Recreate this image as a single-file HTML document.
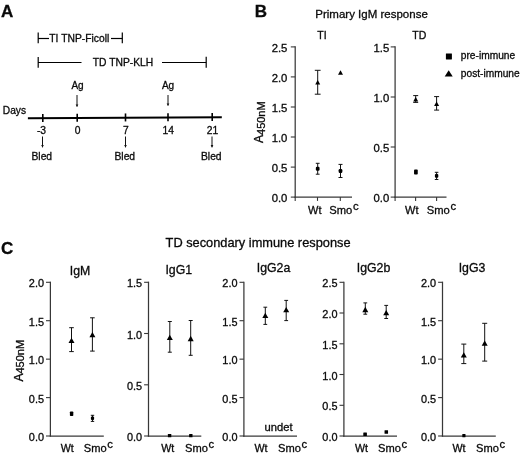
<!DOCTYPE html>
<html><head><meta charset="utf-8"><title>Figure</title>
<style>
html,body{margin:0;padding:0;background:#fff;}
body{width:520px;height:453px;overflow:hidden;}
svg{display:block;will-change:transform;}
svg text{font-family:"Liberation Sans", sans-serif;fill:#0a0a0a;stroke:#0a0a0a;stroke-width:0.3px;}
</style></head><body>
<svg width="520" height="453" viewBox="0 0 520 453">
<rect width="520" height="453" fill="#fff"/>
<text x="0.9" y="16.6" font-size="17" text-anchor="start" font-weight="bold" >A</text>
<line x1="38.2" y1="32.5" x2="38.2" y2="43.3" stroke="#000" stroke-width="1.2"/>
<line x1="38" y1="38.5" x2="49" y2="38.5" stroke="#000" stroke-width="1.2"/>
<text x="49.3" y="41.5" font-size="10.3" text-anchor="start" font-weight="normal" textLength="60">TI TNP-Ficoll</text>
<line x1="111" y1="38.5" x2="122.3" y2="38.5" stroke="#000" stroke-width="1.2"/>
<line x1="122.3" y1="32.5" x2="122.3" y2="43.3" stroke="#000" stroke-width="1.2"/>
<line x1="38.2" y1="57" x2="38.2" y2="67.7" stroke="#000" stroke-width="1.2"/>
<line x1="38" y1="62.5" x2="81.5" y2="62.5" stroke="#000" stroke-width="1.2"/>
<text x="92.8" y="65.7" font-size="10.3" text-anchor="start" font-weight="normal" >TD TNP-KLH</text>
<line x1="162" y1="62.5" x2="206.2" y2="62.5" stroke="#000" stroke-width="1.2"/>
<line x1="206.2" y1="56.8" x2="206.2" y2="67.7" stroke="#000" stroke-width="1.2"/>
<text x="77.5" y="88.5" font-size="10" text-anchor="middle" font-weight="normal" >Ag</text>
<line x1="77" y1="95" x2="77" y2="106.5" stroke="#111" stroke-width="1.0"/>
<polygon points="75.7,104.4 78.3,104.4 77,107" fill="#111"/>
<text x="168" y="88.5" font-size="10" text-anchor="middle" font-weight="normal" >Ag</text>
<line x1="168" y1="95" x2="168" y2="105.5" stroke="#111" stroke-width="1.0"/>
<polygon points="166.7,103.4 169.3,103.4 168,106" fill="#111"/>
<text x="2.8" y="113.9" font-size="10.2" text-anchor="start" font-weight="normal" >Days</text>
<line x1="27.9" y1="118.3" x2="221.8" y2="117.2" stroke="#000" stroke-width="2"/>
<line x1="42.8" y1="113.9160824742268" x2="42.8" y2="121.9160824742268" stroke="#000" stroke-width="1.6"/>
<text x="41.5" y="133.5" font-size="10.3" text-anchor="middle" font-weight="normal" >-3</text>
<line x1="77.2" y1="113.72103092783505" x2="77.2" y2="121.72103092783505" stroke="#000" stroke-width="1.6"/>
<text x="77.5" y="133.5" font-size="10.3" text-anchor="middle" font-weight="normal" >0</text>
<line x1="125.5" y1="113.4471649484536" x2="125.5" y2="121.4471649484536" stroke="#000" stroke-width="1.6"/>
<text x="125.8" y="133.5" font-size="10.3" text-anchor="middle" font-weight="normal" >7</text>
<line x1="168" y1="113.20618556701031" x2="168" y2="121.20618556701031" stroke="#000" stroke-width="1.6"/>
<text x="168.3" y="133.5" font-size="10.3" text-anchor="middle" font-weight="normal" >14</text>
<line x1="212.2" y1="112.95556701030928" x2="212.2" y2="120.95556701030928" stroke="#000" stroke-width="1.6"/>
<text x="212.5" y="133.5" font-size="10.3" text-anchor="middle" font-weight="normal" >21</text>
<line x1="42.5" y1="136.5" x2="42.5" y2="147.2" stroke="#111" stroke-width="1.0"/>
<polygon points="41.2,145.1 43.8,145.1 42.5,147.7" fill="#111"/>
<text x="41.8" y="159.6" font-size="10.3" text-anchor="middle" font-weight="normal" >Bled</text>
<line x1="125.5" y1="136.5" x2="125.5" y2="147.2" stroke="#111" stroke-width="1.0"/>
<polygon points="124.2,145.1 126.8,145.1 125.5,147.7" fill="#111"/>
<text x="124.8" y="159.6" font-size="10.3" text-anchor="middle" font-weight="normal" >Bled</text>
<line x1="212" y1="136.5" x2="212" y2="147.2" stroke="#111" stroke-width="1.0"/>
<polygon points="210.7,145.1 213.3,145.1 212,147.7" fill="#111"/>
<text x="211.3" y="159.6" font-size="10.3" text-anchor="middle" font-weight="normal" >Bled</text>
<text x="254.8" y="16.6" font-size="17" text-anchor="start" font-weight="bold" >B</text>
<text x="315.3" y="18.2" font-size="11.5" text-anchor="start" font-weight="normal" >Primary IgM response</text>
<text x="322" y="39" font-size="10.5" text-anchor="middle" font-weight="normal" >TI</text>
<text x="419.3" y="39" font-size="10.5" text-anchor="middle" font-weight="normal" >TD</text>
<line x1="295.2" y1="46.275" x2="295.2" y2="197.725" stroke="#383838" stroke-width="1.25"/>
<line x1="294.575" y1="197.1" x2="352" y2="197.1" stroke="#383838" stroke-width="1.25"/>
<line x1="290.8" y1="46.9" x2="295.2" y2="46.9" stroke="#383838" stroke-width="1.1"/>
<text x="287.40000000000003" y="52.168" font-size="11.3" text-anchor="end" font-weight="normal" >2.5</text>
<line x1="290.8" y1="76.9" x2="295.2" y2="76.9" stroke="#383838" stroke-width="1.1"/>
<text x="287.40000000000003" y="82.168" font-size="11.3" text-anchor="end" font-weight="normal" >2.0</text>
<line x1="290.8" y1="107.0" x2="295.2" y2="107.0" stroke="#383838" stroke-width="1.1"/>
<text x="287.40000000000003" y="112.268" font-size="11.3" text-anchor="end" font-weight="normal" >1.5</text>
<line x1="290.8" y1="137.0" x2="295.2" y2="137.0" stroke="#383838" stroke-width="1.1"/>
<text x="287.40000000000003" y="142.268" font-size="11.3" text-anchor="end" font-weight="normal" >1.0</text>
<line x1="290.8" y1="167.1" x2="295.2" y2="167.1" stroke="#383838" stroke-width="1.1"/>
<text x="287.40000000000003" y="172.368" font-size="11.3" text-anchor="end" font-weight="normal" >0.5</text>
<line x1="290.8" y1="197.1" x2="295.2" y2="197.1" stroke="#383838" stroke-width="1.1"/>
<text x="287.40000000000003" y="202.368" font-size="11.3" text-anchor="end" font-weight="normal" >0.0</text>
<line x1="295.2" y1="197.1" x2="295.2" y2="200.9" stroke="#383838" stroke-width="1.1"/>
<line x1="317.5" y1="197.1" x2="317.5" y2="200.9" stroke="#383838" stroke-width="1.1"/>
<line x1="340.3" y1="197.1" x2="340.3" y2="200.9" stroke="#383838" stroke-width="1.1"/>
<text x="308" y="214.4" font-size="11" text-anchor="start" font-weight="normal" >Wt</text>
<text x="329.3" y="214.4" font-size="11.2">Smo<tspan dx="0.8" dy="-4.3" font-size="11.3">c</tspan></text>
<text transform="translate(263.4,143) rotate(-90)" font-size="12">A<tspan dy="1.2" font-size="11">450nM</tspan></text>
<line x1="317.7" y1="70.3" x2="317.7" y2="94.2" stroke="#111" stroke-width="1.0"/>
<line x1="314.8" y1="70.3" x2="320.59999999999997" y2="70.3" stroke="#111" stroke-width="1.0"/>
<line x1="314.8" y1="94.2" x2="320.59999999999997" y2="94.2" stroke="#111" stroke-width="1.0"/>
<polygon points="315.2,84.55 320.2,84.55 317.7,80.05" fill="#000"/>
<polygon points="338.0,74.75 343.0,74.75 340.5,70.25" fill="#000"/>
<line x1="317.7" y1="163.3" x2="317.7" y2="174.2" stroke="#111" stroke-width="1.0"/>
<line x1="315.8" y1="163.3" x2="319.59999999999997" y2="163.3" stroke="#111" stroke-width="1.0"/>
<line x1="315.8" y1="174.2" x2="319.59999999999997" y2="174.2" stroke="#111" stroke-width="1.0"/>
<rect x="315.84999999999997" y="166.7" width="3.7" height="4" rx="1.2" fill="#000"/>
<line x1="340.5" y1="164.4" x2="340.5" y2="177.5" stroke="#111" stroke-width="1.0"/>
<line x1="338.5" y1="164.4" x2="342.5" y2="164.4" stroke="#111" stroke-width="1.0"/>
<line x1="338.5" y1="177.5" x2="342.5" y2="177.5" stroke="#111" stroke-width="1.0"/>
<rect x="338.65" y="169.0" width="3.7" height="4" rx="1.2" fill="#000"/>
<line x1="395.1" y1="46.275" x2="395.1" y2="197.725" stroke="#383838" stroke-width="1.25"/>
<line x1="394.475" y1="197.1" x2="446.5" y2="197.1" stroke="#383838" stroke-width="1.25"/>
<line x1="390.70000000000005" y1="46.9" x2="395.1" y2="46.9" stroke="#383838" stroke-width="1.1"/>
<text x="389.30000000000007" y="52.168" font-size="11.3" text-anchor="end" font-weight="normal" >1.5</text>
<line x1="390.70000000000005" y1="97.0" x2="395.1" y2="97.0" stroke="#383838" stroke-width="1.1"/>
<text x="389.30000000000007" y="102.268" font-size="11.3" text-anchor="end" font-weight="normal" >1.0</text>
<line x1="390.70000000000005" y1="147.0" x2="395.1" y2="147.0" stroke="#383838" stroke-width="1.1"/>
<text x="389.30000000000007" y="152.268" font-size="11.3" text-anchor="end" font-weight="normal" >0.5</text>
<line x1="390.70000000000005" y1="197.1" x2="395.1" y2="197.1" stroke="#383838" stroke-width="1.1"/>
<text x="389.30000000000007" y="202.368" font-size="11.3" text-anchor="end" font-weight="normal" >0.0</text>
<line x1="395.1" y1="197.1" x2="395.1" y2="200.9" stroke="#383838" stroke-width="1.1"/>
<line x1="415.6" y1="197.1" x2="415.6" y2="200.9" stroke="#383838" stroke-width="1.1"/>
<line x1="436.6" y1="197.1" x2="436.6" y2="200.9" stroke="#383838" stroke-width="1.1"/>
<text x="405" y="214.4" font-size="11" text-anchor="start" font-weight="normal" >Wt</text>
<text x="426.8" y="214.4" font-size="11.2">Smo<tspan dx="0.8" dy="-4.3" font-size="11.3">c</tspan></text>
<line x1="415.7" y1="95.6" x2="415.7" y2="102.4" stroke="#111" stroke-width="1.0"/>
<line x1="413.2" y1="95.6" x2="418.2" y2="95.6" stroke="#111" stroke-width="1.0"/>
<line x1="413.2" y1="102.4" x2="418.2" y2="102.4" stroke="#111" stroke-width="1.0"/>
<polygon points="413.2,101.55 418.2,101.55 415.7,97.05" fill="#000"/>
<line x1="436.6" y1="96.6" x2="436.6" y2="110.1" stroke="#111" stroke-width="1.0"/>
<line x1="434.1" y1="96.6" x2="439.1" y2="96.6" stroke="#111" stroke-width="1.0"/>
<line x1="434.1" y1="110.1" x2="439.1" y2="110.1" stroke="#111" stroke-width="1.0"/>
<polygon points="434.1,106.05 439.1,106.05 436.6,101.55" fill="#000"/>
<rect x="414.04999999999995" y="169.6" width="3.7" height="5.0" rx="0.8" fill="#000"/>
<line x1="436.6" y1="172.3" x2="436.6" y2="179.5" stroke="#111" stroke-width="1.0"/>
<line x1="434.8" y1="172.3" x2="438.40000000000003" y2="172.3" stroke="#111" stroke-width="1.0"/>
<line x1="434.8" y1="179.5" x2="438.40000000000003" y2="179.5" stroke="#111" stroke-width="1.0"/>
<rect x="434.90000000000003" y="173.9" width="3.4" height="3.8" rx="1" fill="#000"/>
<rect x="445.9" y="53.4" width="6" height="6" rx="0.3" fill="#000"/>
<text x="460.8" y="59.4" font-size="10.2" text-anchor="start" font-weight="normal" >pre-immune</text>
<polygon points="444.7,76.60000000000001 452.7,76.60000000000001 448.7,70.2" fill="#000"/>
<text x="460.8" y="76.6" font-size="10.2" text-anchor="start" font-weight="normal" >post-immune</text>
<text x="1.0" y="254.1" font-size="17" text-anchor="start" font-weight="bold" >C</text>
<text x="165.6" y="246.8" font-size="12.8" text-anchor="start" font-weight="normal" >TD secondary immune response</text>
<text x="80" y="274.8" font-size="12.3" text-anchor="middle" font-weight="normal" >IgM</text>
<line x1="50.4" y1="281.675" x2="50.4" y2="436.625" stroke="#383838" stroke-width="1.25"/>
<line x1="49.775" y1="436.0" x2="103.8" y2="436.0" stroke="#383838" stroke-width="1.25"/>
<line x1="46.0" y1="282.3" x2="50.4" y2="282.3" stroke="#383838" stroke-width="1.1"/>
<text x="44.0" y="287.424" font-size="10.9" text-anchor="end" font-weight="normal" >2.0</text>
<line x1="46.0" y1="320.7" x2="50.4" y2="320.7" stroke="#383838" stroke-width="1.1"/>
<text x="44.0" y="325.82399999999996" font-size="10.9" text-anchor="end" font-weight="normal" >1.5</text>
<line x1="46.0" y1="359.15" x2="50.4" y2="359.15" stroke="#383838" stroke-width="1.1"/>
<text x="44.0" y="364.27399999999994" font-size="10.9" text-anchor="end" font-weight="normal" >1.0</text>
<line x1="46.0" y1="397.6" x2="50.4" y2="397.6" stroke="#383838" stroke-width="1.1"/>
<text x="44.0" y="402.724" font-size="10.9" text-anchor="end" font-weight="normal" >0.5</text>
<line x1="46.0" y1="436.0" x2="50.4" y2="436.0" stroke="#383838" stroke-width="1.1"/>
<text x="44.0" y="441.12399999999997" font-size="10.9" text-anchor="end" font-weight="normal" >0.0</text>
<text x="60.75" y="451.6" font-size="10.7" text-anchor="start" font-weight="normal" >Wt</text>
<text x="83.75" y="451.6" font-size="11.1">Smo<tspan dx="0.8" dy="-3.8" font-size="11.3">c</tspan></text>
<text transform="translate(23.1,381.6) rotate(-90)" font-size="12">A<tspan dy="1.2" font-size="11">450nM</tspan></text>
<line x1="71.5" y1="327.7" x2="71.5" y2="351.6" stroke="#111" stroke-width="1.0"/>
<line x1="69.2" y1="327.7" x2="73.8" y2="327.7" stroke="#111" stroke-width="1.0"/>
<line x1="69.2" y1="351.6" x2="73.8" y2="351.6" stroke="#111" stroke-width="1.0"/>
<polygon points="68.5,342.95 74.5,342.95 71.5,337.65000000000003" fill="#000"/>
<line x1="92.4" y1="317.8" x2="92.4" y2="351.1" stroke="#111" stroke-width="1.0"/>
<line x1="90.10000000000001" y1="317.8" x2="94.7" y2="317.8" stroke="#111" stroke-width="1.0"/>
<line x1="90.10000000000001" y1="351.1" x2="94.7" y2="351.1" stroke="#111" stroke-width="1.0"/>
<polygon points="89.4,337.25 95.4,337.25 92.4,331.95000000000005" fill="#000"/>
<rect x="69.89999999999999" y="411.4" width="3.4" height="4.6" rx="0.8" fill="#000"/>
<line x1="92.5" y1="415.3" x2="92.5" y2="421.4" stroke="#111" stroke-width="1.0"/>
<line x1="90.8" y1="415.3" x2="94.2" y2="415.3" stroke="#111" stroke-width="1.0"/>
<line x1="90.8" y1="421.4" x2="94.2" y2="421.4" stroke="#111" stroke-width="1.0"/>
<rect x="90.9" y="416.6" width="3.2" height="3.4" rx="1" fill="#000"/>
<text x="178.8" y="273.8" font-size="12.3" text-anchor="middle" font-weight="normal" >IgG1</text>
<line x1="148.5" y1="281.675" x2="148.5" y2="436.625" stroke="#383838" stroke-width="1.25"/>
<line x1="147.875" y1="436.0" x2="201.3" y2="436.0" stroke="#383838" stroke-width="1.25"/>
<line x1="144.1" y1="282.3" x2="148.5" y2="282.3" stroke="#383838" stroke-width="1.1"/>
<text x="142.1" y="287.424" font-size="10.9" text-anchor="end" font-weight="normal" >1.5</text>
<line x1="144.1" y1="333.5" x2="148.5" y2="333.5" stroke="#383838" stroke-width="1.1"/>
<text x="142.1" y="338.62399999999997" font-size="10.9" text-anchor="end" font-weight="normal" >1.0</text>
<line x1="144.1" y1="384.8" x2="148.5" y2="384.8" stroke="#383838" stroke-width="1.1"/>
<text x="142.1" y="389.924" font-size="10.9" text-anchor="end" font-weight="normal" >0.5</text>
<line x1="144.1" y1="436.0" x2="148.5" y2="436.0" stroke="#383838" stroke-width="1.1"/>
<text x="142.1" y="441.12399999999997" font-size="10.9" text-anchor="end" font-weight="normal" >0.0</text>
<text x="161.25" y="451.6" font-size="10.7" text-anchor="start" font-weight="normal" >Wt</text>
<text x="185" y="451.6" font-size="11.1">Smo<tspan dx="0.8" dy="-3.8" font-size="11.3">c</tspan></text>
<line x1="169.8" y1="321.5" x2="169.8" y2="352.2" stroke="#111" stroke-width="1.0"/>
<line x1="167.8" y1="321.5" x2="171.8" y2="321.5" stroke="#111" stroke-width="1.0"/>
<line x1="167.8" y1="352.2" x2="171.8" y2="352.2" stroke="#111" stroke-width="1.0"/>
<polygon points="166.8,340.04999999999995 172.8,340.04999999999995 169.8,334.75" fill="#000"/>
<line x1="190.7" y1="320.5" x2="190.7" y2="355.3" stroke="#111" stroke-width="1.0"/>
<line x1="188.7" y1="320.5" x2="192.7" y2="320.5" stroke="#111" stroke-width="1.0"/>
<line x1="188.7" y1="355.3" x2="192.7" y2="355.3" stroke="#111" stroke-width="1.0"/>
<polygon points="187.7,341.15 193.7,341.15 190.7,335.85" fill="#000"/>
<rect x="167.9" y="434.09999999999997" width="3.4" height="3.2" rx="0.3" fill="#000"/>
<rect x="189.10000000000002" y="434.09999999999997" width="3.4" height="3.2" rx="0.3" fill="#000"/>
<text x="273.5" y="272.3" font-size="12.3" text-anchor="middle" font-weight="normal" >IgG2a</text>
<line x1="243.9" y1="281.675" x2="243.9" y2="436.625" stroke="#383838" stroke-width="1.25"/>
<line x1="243.275" y1="436.0" x2="297" y2="436.0" stroke="#383838" stroke-width="1.25"/>
<line x1="239.5" y1="282.3" x2="243.9" y2="282.3" stroke="#383838" stroke-width="1.1"/>
<text x="237.5" y="287.424" font-size="10.9" text-anchor="end" font-weight="normal" >2.0</text>
<line x1="239.5" y1="320.7" x2="243.9" y2="320.7" stroke="#383838" stroke-width="1.1"/>
<text x="237.5" y="325.82399999999996" font-size="10.9" text-anchor="end" font-weight="normal" >1.5</text>
<line x1="239.5" y1="359.15" x2="243.9" y2="359.15" stroke="#383838" stroke-width="1.1"/>
<text x="237.5" y="364.27399999999994" font-size="10.9" text-anchor="end" font-weight="normal" >1.0</text>
<line x1="239.5" y1="397.6" x2="243.9" y2="397.6" stroke="#383838" stroke-width="1.1"/>
<text x="237.5" y="402.724" font-size="10.9" text-anchor="end" font-weight="normal" >0.5</text>
<line x1="239.5" y1="436.0" x2="243.9" y2="436.0" stroke="#383838" stroke-width="1.1"/>
<text x="237.5" y="441.12399999999997" font-size="10.9" text-anchor="end" font-weight="normal" >0.0</text>
<text x="254.5" y="451.6" font-size="10.7" text-anchor="start" font-weight="normal" >Wt</text>
<text x="278" y="451.6" font-size="11.1">Smo<tspan dx="0.8" dy="-3.8" font-size="11.3">c</tspan></text>
<text x="264.6" y="430.6" font-size="11.2" text-anchor="start" font-weight="normal" >undet</text>
<line x1="265.3" y1="307.2" x2="265.3" y2="324.4" stroke="#111" stroke-width="1.0"/>
<line x1="263.40000000000003" y1="307.2" x2="267.2" y2="307.2" stroke="#111" stroke-width="1.0"/>
<line x1="263.40000000000003" y1="324.4" x2="267.2" y2="324.4" stroke="#111" stroke-width="1.0"/>
<polygon points="262.3,318.04999999999995 268.3,318.04999999999995 265.3,312.75" fill="#000"/>
<line x1="286.2" y1="300.4" x2="286.2" y2="320.6" stroke="#111" stroke-width="1.0"/>
<line x1="284.3" y1="300.4" x2="288.09999999999997" y2="300.4" stroke="#111" stroke-width="1.0"/>
<line x1="284.3" y1="320.6" x2="288.09999999999997" y2="320.6" stroke="#111" stroke-width="1.0"/>
<polygon points="283.2,312.34999999999997 289.2,312.34999999999997 286.2,307.05" fill="#000"/>
<text x="373.5" y="272.3" font-size="12.3" text-anchor="middle" font-weight="normal" >IgG2b</text>
<line x1="343.9" y1="281.675" x2="343.9" y2="436.625" stroke="#383838" stroke-width="1.25"/>
<line x1="343.275" y1="436.0" x2="397" y2="436.0" stroke="#383838" stroke-width="1.25"/>
<line x1="339.5" y1="282.3" x2="343.9" y2="282.3" stroke="#383838" stroke-width="1.1"/>
<text x="337.5" y="287.424" font-size="10.9" text-anchor="end" font-weight="normal" >2.5</text>
<line x1="339.5" y1="313.0" x2="343.9" y2="313.0" stroke="#383838" stroke-width="1.1"/>
<text x="337.5" y="318.12399999999997" font-size="10.9" text-anchor="end" font-weight="normal" >2.0</text>
<line x1="339.5" y1="343.8" x2="343.9" y2="343.8" stroke="#383838" stroke-width="1.1"/>
<text x="337.5" y="348.924" font-size="10.9" text-anchor="end" font-weight="normal" >1.5</text>
<line x1="339.5" y1="374.5" x2="343.9" y2="374.5" stroke="#383838" stroke-width="1.1"/>
<text x="337.5" y="379.62399999999997" font-size="10.9" text-anchor="end" font-weight="normal" >1.0</text>
<line x1="339.5" y1="405.3" x2="343.9" y2="405.3" stroke="#383838" stroke-width="1.1"/>
<text x="337.5" y="410.424" font-size="10.9" text-anchor="end" font-weight="normal" >0.5</text>
<line x1="339.5" y1="436.0" x2="343.9" y2="436.0" stroke="#383838" stroke-width="1.1"/>
<text x="337.5" y="441.12399999999997" font-size="10.9" text-anchor="end" font-weight="normal" >0.0</text>
<text x="355" y="451.6" font-size="10.7" text-anchor="start" font-weight="normal" >Wt</text>
<text x="378" y="451.6" font-size="11.1">Smo<tspan dx="0.8" dy="-3.8" font-size="11.3">c</tspan></text>
<line x1="365.3" y1="302.9" x2="365.3" y2="314.2" stroke="#111" stroke-width="1.0"/>
<line x1="363.40000000000003" y1="302.9" x2="367.2" y2="302.9" stroke="#111" stroke-width="1.0"/>
<line x1="363.40000000000003" y1="314.2" x2="367.2" y2="314.2" stroke="#111" stroke-width="1.0"/>
<polygon points="362.3,312.15 368.3,312.15 365.3,306.85" fill="#000"/>
<line x1="386.2" y1="305.4" x2="386.2" y2="318.5" stroke="#111" stroke-width="1.0"/>
<line x1="384.3" y1="305.4" x2="388.09999999999997" y2="305.4" stroke="#111" stroke-width="1.0"/>
<line x1="384.3" y1="318.5" x2="388.09999999999997" y2="318.5" stroke="#111" stroke-width="1.0"/>
<polygon points="383.2,315.34999999999997 389.2,315.34999999999997 386.2,310.05" fill="#000"/>
<rect x="363.3" y="432.6" width="3.6" height="3.4" rx="0.3" fill="#000"/>
<rect x="384.55" y="430.25" width="3.5" height="3.5" rx="0.3" fill="#000"/>
<text x="472" y="272.3" font-size="12.3" text-anchor="middle" font-weight="normal" >IgG3</text>
<line x1="442.5" y1="281.675" x2="442.5" y2="436.625" stroke="#383838" stroke-width="1.25"/>
<line x1="441.875" y1="436.0" x2="495.8" y2="436.0" stroke="#383838" stroke-width="1.25"/>
<line x1="438.1" y1="282.3" x2="442.5" y2="282.3" stroke="#383838" stroke-width="1.1"/>
<text x="436.1" y="287.424" font-size="10.9" text-anchor="end" font-weight="normal" >2.0</text>
<line x1="438.1" y1="320.7" x2="442.5" y2="320.7" stroke="#383838" stroke-width="1.1"/>
<text x="436.1" y="325.82399999999996" font-size="10.9" text-anchor="end" font-weight="normal" >1.5</text>
<line x1="438.1" y1="359.15" x2="442.5" y2="359.15" stroke="#383838" stroke-width="1.1"/>
<text x="436.1" y="364.27399999999994" font-size="10.9" text-anchor="end" font-weight="normal" >1.0</text>
<line x1="438.1" y1="397.6" x2="442.5" y2="397.6" stroke="#383838" stroke-width="1.1"/>
<text x="436.1" y="402.724" font-size="10.9" text-anchor="end" font-weight="normal" >0.5</text>
<line x1="438.1" y1="436.0" x2="442.5" y2="436.0" stroke="#383838" stroke-width="1.1"/>
<text x="436.1" y="441.12399999999997" font-size="10.9" text-anchor="end" font-weight="normal" >0.0</text>
<text x="452.5" y="451.6" font-size="10.7" text-anchor="start" font-weight="normal" >Wt</text>
<text x="476" y="451.6" font-size="11.1">Smo<tspan dx="0.8" dy="-3.8" font-size="11.3">c</tspan></text>
<line x1="463.8" y1="344.1" x2="463.8" y2="363.6" stroke="#111" stroke-width="1.0"/>
<line x1="461.3" y1="344.1" x2="466.3" y2="344.1" stroke="#111" stroke-width="1.0"/>
<line x1="461.3" y1="363.6" x2="466.3" y2="363.6" stroke="#111" stroke-width="1.0"/>
<polygon points="460.8,357.54999999999995 466.8,357.54999999999995 463.8,352.25" fill="#000"/>
<line x1="484.7" y1="323.3" x2="484.7" y2="361.1" stroke="#111" stroke-width="1.0"/>
<line x1="482.2" y1="323.3" x2="487.2" y2="323.3" stroke="#111" stroke-width="1.0"/>
<line x1="482.2" y1="361.1" x2="487.2" y2="361.1" stroke="#111" stroke-width="1.0"/>
<polygon points="481.7,345.75 487.7,345.75 484.7,340.45000000000005" fill="#000"/>
<rect x="462.29999999999995" y="434.09999999999997" width="3.2" height="3.2" rx="0.5" fill="#000"/>
</svg>
</body></html>
